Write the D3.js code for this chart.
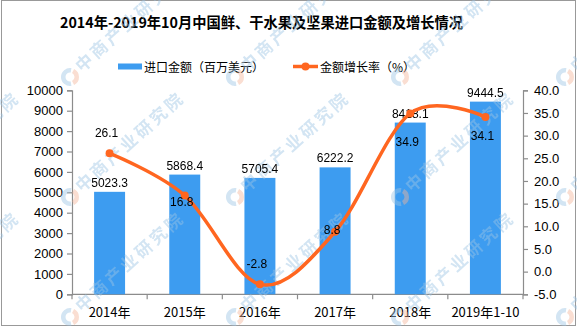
<!DOCTYPE html>
<html><head><meta charset="utf-8">
<script src="https://cdn.jsdelivr.net/npm/d3@7"></script>
<style>html,body{margin:0;padding:0;background:#fff;}svg{display:block;}</style>
</head><body>
<svg id="chart" width="577" height="327"></svg>
<script>
const categories = ["2014年","2015年","2016年","2017年","2018年","2019年1-10"];
const amounts = [5023.3, 5868.4, 5705.4, 6222.2, 8418.1, 9444.5];
const growth = [26.1, 16.8, -2.8, 8.8, 34.9, 34.1];
const leftTicks = [0,1000,2000,3000,4000,5000,6000,7000,8000,9000,10000];
const rightTicks = [-5,0,5,10,15,20,25,30,35,40];
const growthLabelPlacement = ["above","belowNear","above","center","belowFar","below"];
const titleText = "2014年-2019年10月中国鲜、干水果及坚果进口金额及增长情况";
const legendBar = "进口金额（百万美元）";
const legendLine = "金额增长率（%）";
const watermarkText = "中商产业研究院";

const W = 577, H = 327;
const plot = {left: 72, right: 523, top: 90.3, bottom: 294.3};
const barColor = "#3d9cf0", lineColor = "#ff6620", axisColor = "#8c8c8c";
const font = "'Liberation Sans', Arial, sans-serif";
const cjk = "'Noto Sans CJK SC', 'Liberation Sans', sans-serif";
const loc = d3.formatLocale({decimal:".", thousands:",", grouping:[3], currency:["",""], minus:"-"});
const f1 = loc.format(".1f");

const svg = d3.select("#chart");
svg.append("rect").attr("x",1.5).attr("y",0.5).attr("width",574).attr("height",325)
  .attr("fill","#fff").attr("stroke","#999").attr("stroke-width",1);

const x = d3.scaleBand().domain(categories).range([plot.left, plot.right]).paddingInner(0.588).paddingOuter(0.294);
const y = d3.scaleLinear().domain([0,10000]).range([plot.bottom, plot.top]);
const y2 = d3.scaleLinear().domain([-5,40]).range([plot.bottom, plot.top]);
const cx = d => x(d) + x.bandwidth()/2;

// title
svg.append("text").attr("x",60).attr("y",28)
  .attr("font-family",cjk).attr("font-weight","bold").attr("font-size",14.8).attr("fill","#000")
  .attr("textLength",403).attr("lengthAdjust","spacingAndGlyphs")
  .text(titleText);

// legend
const lg = svg.append("g");
lg.append("rect").attr("x",118).attr("y",63.5).attr("width",24).attr("height",6).attr("fill",barColor);
lg.append("text").attr("x",144).attr("y",71.5).attr("font-family",cjk).attr("font-size",12).text(legendBar);
lg.append("line").attr("x1",293).attr("x2",318).attr("y1",66.5).attr("y2",66.5).attr("stroke",lineColor).attr("stroke-width",3.5);
lg.append("circle").attr("cx",305.5).attr("cy",66.5).attr("r",4).attr("fill",lineColor);
lg.append("text").attr("x",320).attr("y",71.5).attr("font-family",cjk).attr("font-size",12).text(legendLine);

// axes
const axL = d3.axisLeft(y).tickValues(leftTicks).tickSize(5).tickPadding(4).tickFormat(loc.format("d"));
const gL = svg.append("g").attr("transform",`translate(${plot.left},0)`).call(axL);
const axR = d3.axisRight(y2).tickValues(rightTicks).tickSize(5).tickPadding(6).tickFormat(f1);
const gR = svg.append("g").attr("transform",`translate(${plot.right},0)`).call(axR);
const axB = d3.axisBottom(x).tickSize(0).tickPadding(12);
const gB = svg.append("g").attr("transform",`translate(0,${plot.bottom})`).call(axB);
[gL,gR,gB].forEach(g=>{
  g.select(".domain").attr("stroke",axisColor).attr("stroke-width",1.2);
  g.selectAll(".tick line").attr("stroke",axisColor).attr("stroke-width",1.2);
  g.selectAll("text").attr("font-family",font).attr("font-size",13).attr("fill","#000");
});
gB.select(".domain").attr("d",`M${plot.left},0H${plot.right}`);
gB.selectAll("text").attr("font-family",cjk).attr("font-size",13).attr("dy","0.85em");
const bounds = categories.map(c => x(c) - x.step()*x.paddingInner()/2).concat([plot.right]);
gB.selectAll(".bnd").data(bounds).enter().append("line").attr("class","bnd")
  .attr("x1",d=>d).attr("x2",d=>d).attr("y1",0).attr("y2",5).attr("stroke",axisColor).attr("stroke-width",1.2);

// bars
svg.append("g").selectAll("rect").data(amounts).enter().append("rect")
  .attr("x",(d,i)=>x(categories[i])).attr("width",x.bandwidth())
  .attr("y",d=>y(d)).attr("height",d=>plot.bottom - y(d)).attr("fill",barColor);

// watermarks
const wm = svg.append("g").attr("opacity",0.45);
const wmPos = [];
[77,197,317].forEach(wy=>{ for(let wx=-95; wx<=580; wx+=165) wmPos.push([wx,wy]); });
wmPos.forEach(([wx,wy])=>{
  const g = wm.append("g").attr("transform",`translate(${wx},${wy})`);
  const arc = d3.arc().innerRadius(4.5).outerRadius(9);
  g.append("path").attr("d",arc({startAngle:Math.PI*0.95,endAngle:Math.PI*2.05})).attr("fill","#9cc4e4");
  g.append("path").attr("d",arc({startAngle:Math.PI*0.15,endAngle:Math.PI*0.85})).attr("fill","#f4b69a");
  g.append("text").attr("transform","translate(12,-4) rotate(-42)")
    .attr("font-family",cjk).attr("font-weight","bold").attr("font-size",17).attr("letter-spacing",3)
    .attr("fill","#9cc4e4").text(watermarkText);
});

// bar labels
svg.append("g").selectAll("text").data(amounts).enter().append("text")
  .attr("x",(d,i)=>cx(categories[i])).attr("y",d=>y(d)-5).attr("text-anchor","middle")
  .attr("font-family",font).attr("font-size",12).attr("fill","#000").text(d=>f1(d));

// line
const line = d3.line().x((d,i)=>cx(categories[i])).y(d=>y2(d)).curve(d3.curveCardinal.tension(0));
svg.append("path").datum(growth).attr("d",line).attr("fill","none")
  .attr("stroke",lineColor).attr("stroke-width",3.5).attr("stroke-linejoin","round");
svg.append("g").selectAll("circle").data(growth).enter().append("circle")
  .attr("cx",(d,i)=>cx(categories[i])).attr("cy",d=>y2(d)).attr("r",4).attr("fill",lineColor);

// line labels
const offs = {above:-16, center:2, belowNear:11, below:23, belowFar:33};
svg.append("g").selectAll("text").data(growth).enter().append("text")
  .attr("x",(d,i)=>cx(categories[i]) - 3)
  .attr("y",(d,i)=>y2(d)+offs[growthLabelPlacement[i]])
  .attr("text-anchor","middle").attr("font-family",font).attr("font-size",12).attr("fill","#000")
  .text(d=>f1(d));
</script>
</body></html>
